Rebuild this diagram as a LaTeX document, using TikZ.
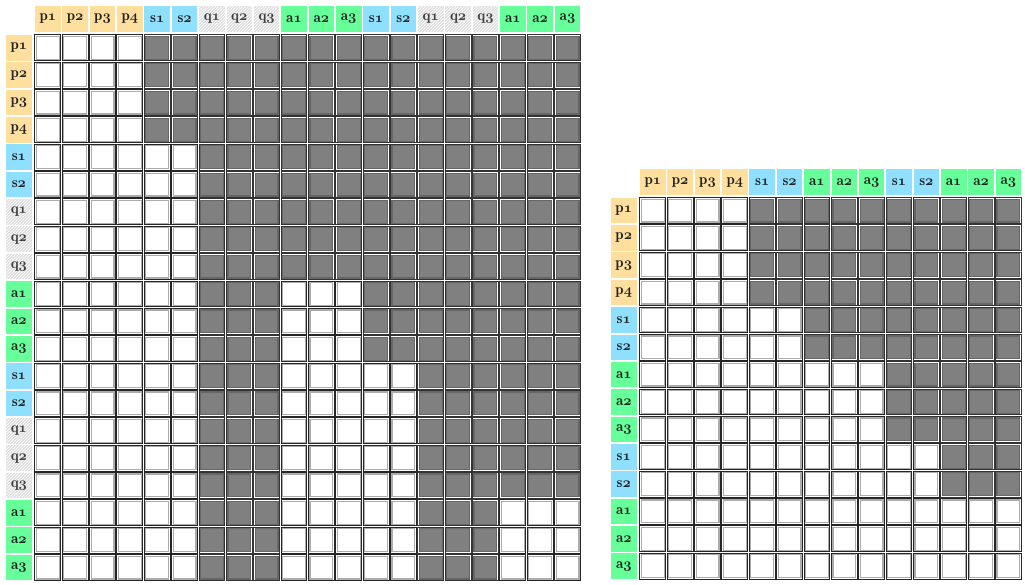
\documentclass[tikz,border=0pt]{standalone}
\usepackage{fontspec}
\newfontfamily\hf{lmromandemi10-regular.otf}
\usetikzlibrary{patterns}
\definecolor{cp}{HTML}{FFDF9E}
\definecolor{cs}{HTML}{8FE0FF}
\definecolor{ca}{HTML}{66FF99}
\definecolor{txt}{HTML}{222222}
\definecolor{dk}{HTML}{808080}
\tikzset{
 hdr/.style={minimum size=25.6pt, inner sep=0, font=\fontsize{15}{16}\selectfont\hf, text=txt},
 hp/.style={hdr, fill=cp}, hs/.style={hdr, fill=cs}, ha/.style={hdr, fill=ca},
 hq/.style={hdr, fill=gray!25, postaction={pattern=north east lines, pattern color=white}, text=black!75},
 wcell/.style={minimum size=22.8pt, inner sep=0, draw=gray!65, line width=1.2pt, fill=white},
 dcell/.style={wcell, fill=dk, draw=black!60},
 wout/.style={draw=black!85, line width=1pt},
 dout/.style={draw=black!80, line width=1pt},
}
\newcommand\mkcell[4]{%
 \ifnum#4=1
  \node[wcell] (#1) at (#2,#3) {};
  \draw[wout] ([shift={(-0.95pt,0.95pt)}]#1.north west) rectangle ([shift={(0.95pt,-0.95pt)}]#1.south east);
 \else
  \node[dcell] (#1) at (#2,#3) {};
  \draw[dout] ([shift={(-0.95pt,0.95pt)}]#1.north west) rectangle ([shift={(0.95pt,-0.95pt)}]#1.south east);
 \fi}
\newcommand\lab[2]{#1{\fontencoding{OML}\fontfamily{cmm}\fontseries{b}\fontshape{it}\selectfont #2}}
\begin{document}
\begin{tikzpicture}[x=1pt,y=-1pt]
\useasboundingbox (0,0) rectangle (1025,585);
% ---------- left matrix ----------
\foreach \t/\d [count=\i] in {p/1,p/2,p/3,p/4,s/1,s/2,q/1,q/2,q/3,a/1,a/2,a/3,s/1,s/2,q/1,q/2,q/3,a/1,a/2,a/3}{
  \pgfmathsetmacro\cc{35+(\i-1)*27.35+12.85}
  \node[h\t] (LH-\i) at (\cc,18.85) {\lab{\t}{\d}};
  \node[h\t] (LR-\i) at (18.85,\cc) {\lab{\t}{\d}};
}
\foreach \r in {1,...,20}{
  \foreach \c in {1,...,20}{
    \pgfmathsetmacro\cx{35+(\c-1)*27.35+12.85}
    \pgfmathsetmacro\cy{35+(\r-1)*27.35+12.85}
    \pgfmathtruncatemacro\w{(\c<=4) || (\r>=5 && \c<=6) || (\r>=10 && \r<=12 && \c>=10 && \c<=12) || (\r>=13 && \c>=10 && \c<=14) || (\r>=18 && \c>=18)}
    \mkcell{L-\r-\c}{\cx}{\cy}{\w}
  }
}
% ---------- right matrix ----------
\foreach \t/\d [count=\i] in {p/1,p/2,p/3,p/4,s/1,s/2,a/1,a/2,a/3,s/1,s/2,a/1,a/2,a/3}{
  \pgfmathsetmacro\cx{640+(\i-1)*27.35+12.85}
  \pgfmathsetmacro\cy{197.7+(\i-1)*27.35+12.85}
  \node[h\t] (RH-\i) at (\cx,182.3) {\lab{\t}{\d}};
  \node[h\t] (RR-\i) at (623.8,\cy) {\lab{\t}{\d}};
}
\foreach \r in {1,...,14}{
  \foreach \c in {1,...,14}{
    \pgfmathsetmacro\cx{640+(\c-1)*27.35+12.85}
    \pgfmathsetmacro\cy{197.7+(\r-1)*27.35+12.85}
    \pgfmathtruncatemacro\w{(\c<=4) || (\r>=5 && \c<=6) || (\r>=7 && \c<=9) || (\r>=10 && \c<=11) || (\r>=12)}
    \mkcell{R-\r-\c}{\cx}{\cy}{\w}
  }
}
\end{tikzpicture}
\end{document}
